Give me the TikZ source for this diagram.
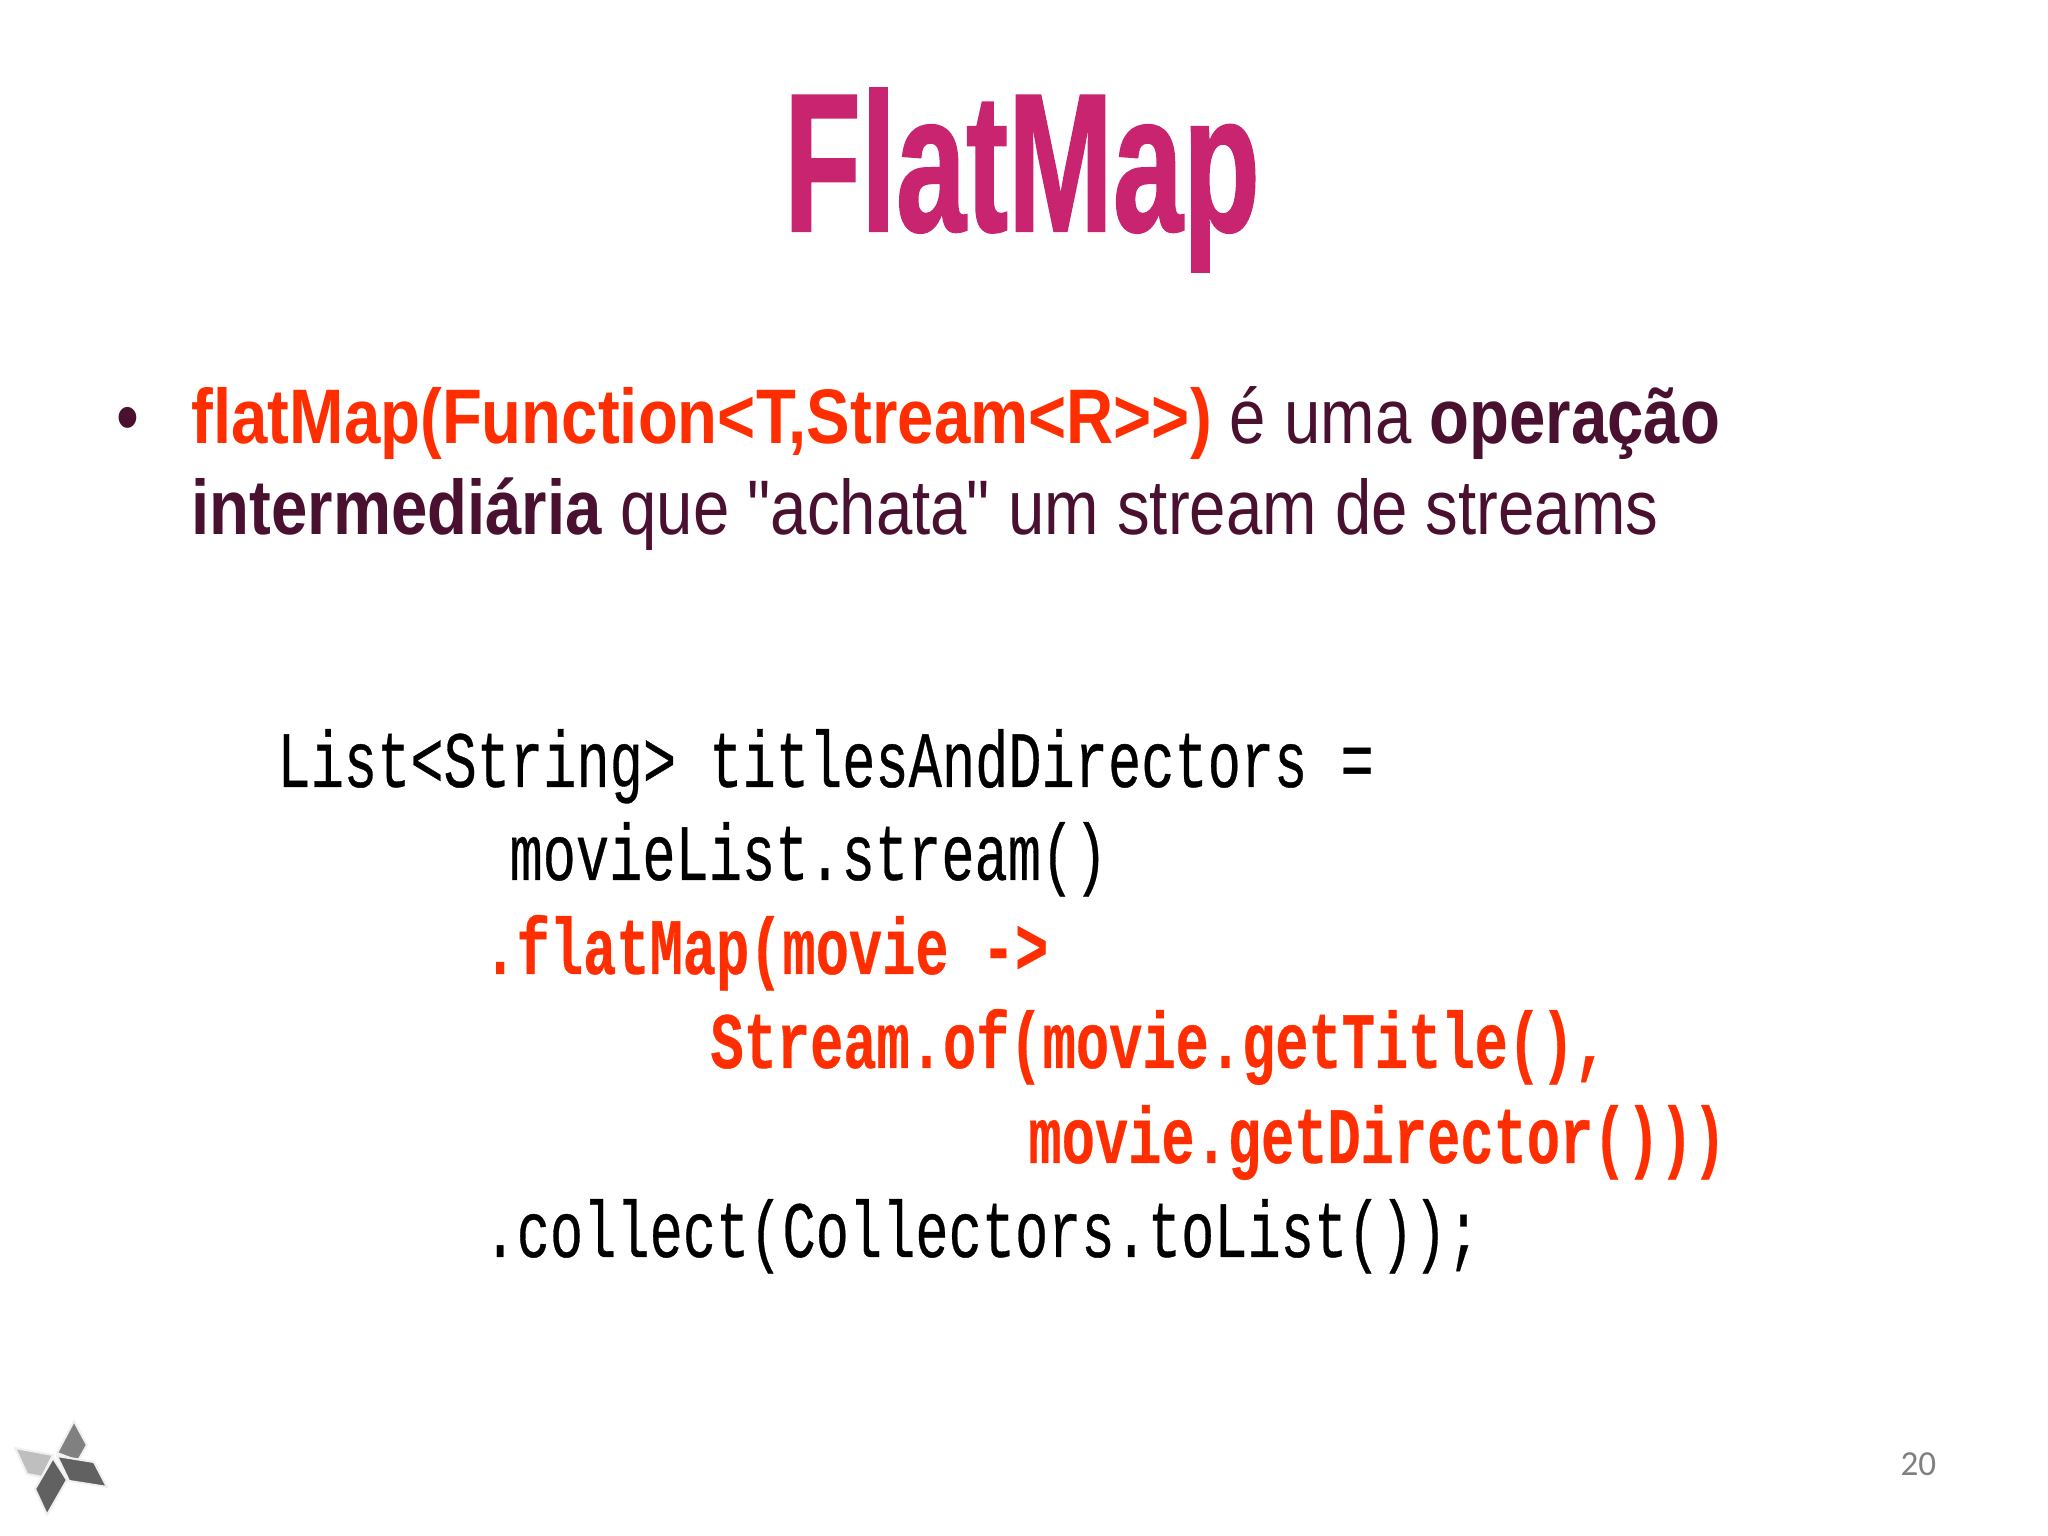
\documentclass[tikz,border=0pt]{standalone}
\usepackage{fontspec}
\newfontfamily\bodyfont{Liberation Sans}
\newfontfamily\titlefont[BoldFeatures={FakeBold=1.2}]{Liberation Sans}
\newfontfamily\codefont[FakeBold=0.5]{Liberation Mono}
\newfontfamily\pagefont{Carlito}
\definecolor{titlepink}{HTML}{C8246F}
\definecolor{flatred}{HTML}{FF2E00}
\definecolor{plum}{HTML}{4A1030}
\tikzset{
  titletext/.style={anchor=base, inner sep=0, xscale=0.64, text=titlepink, font=\fontsize{56}{56}\selectfont\titlefont\bfseries},
  bodytext/.style={anchor=base west, inner sep=0, xscale=0.845, text=plum, font=\fontsize{22}{22}\selectfont\bodyfont},
  codetext/.style={anchor=base west, inner sep=0, xscale=0.694, text=black, font=\fontsize{22.7}{22.7}\selectfont\codefont},
  codered/.style={codetext, text=flatred, font=\fontsize{22.7}{22.7}\selectfont\codefont\bfseries},
  petal/.style={draw=gray!12, line width=0.6pt, line join=round}
}
\begin{document}
\begin{tikzpicture}
\useasboundingbox (0,0) rectangle (20.48,15.36);
\node[titletext] (title) at (10.22,13.05) {FlatMap};
\node[bodytext] (bullet) at (1.16,10.92) {•};
\node[bodytext] (lineone) at (1.91,10.92) {\textcolor{flatred}{\textbf{flatMap(Function<T,Stream<R>>)}} é uma \textbf{operação}};
\node[bodytext] (linetwo) at (1.91,10.01) {\textbf{intermediária} que "achata" um stream de streams};
\node[codetext] (codeone) at (2.77,7.49) {List<String> titlesAndDirectors =};
\node[codetext] (codetwo) at (5.09,6.56) {movieList.stream()};
\node[codered] (codethree) at (4.83,5.62) {.flatMap(movie ->};
\node[codered] (codefour) at (7.10,4.68) {Stream.of(movie.getTitle(),};
\node[codered] (codefive) at (10.28,3.73) {movie.getDirector()))};
\node[codetext] (codesix) at (4.83,2.79) {.collect(Collectors.toList());};
\node[anchor=base east, inner sep=0, text=gray, font=\fontsize{10}{10}\selectfont\pagefont] (pagenum) at (19.37,0.60) {20};
\draw[petal, fill=black!50] (0.74,15.36-14.21) -- (0.87,15.36-14.45) -- (0.78,15.36-14.61) -- (0.57,15.36-14.53) -- cycle;
\draw[petal, fill=black!25] (0.15,15.36-14.48) -- (0.53,15.36-14.55) -- (0.42,15.36-14.77) -- (0.27,15.36-14.74) -- cycle;
\draw[petal, fill=black!62] (0.57,15.36-14.56) -- (0.94,15.36-14.62) -- (1.07,15.36-14.87) -- (0.69,15.36-14.81) -- cycle;
\draw[petal, fill=black!62] (0.53,15.36-14.58) -- (0.67,15.36-14.80) -- (0.47,15.36-15.15) -- (0.35,15.36-14.89) -- cycle;
\end{tikzpicture}
\end{document}
